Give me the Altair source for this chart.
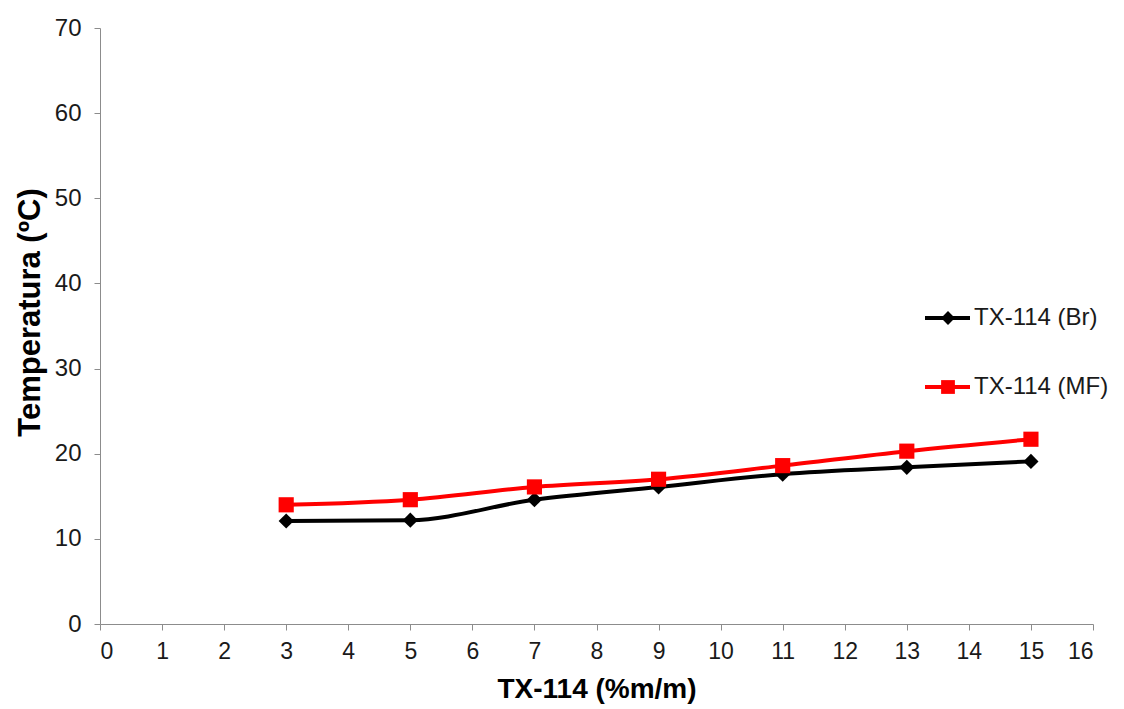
import altair as alt
import pandas as pd

# Surfactant concentration (% m/m) and measured temperatures (ºC)
tx_conc = [3, 5, 7, 9, 11, 13, 15]
temp_br = [12.1, 12.2, 14.6, 16.1, 17.6, 18.4, 19.1]
temp_mf = [14.0, 14.6, 16.1, 17.0, 18.6, 20.3, 21.7]

series_names = ["TX-114 (Br)", "TX-114 (MF)"]
series_colors = ["#000000", "#ff0000"]
series_shapes = ["diamond", "square"]

x_ticks = list(range(0, 17))
y_ticks = list(range(0, 71, 10))

FONT = "Liberation Sans"
LABEL_COLOR = "#1a1a1a"
AXIS_GRAY = "#8c8c8c"

rows = []
for name, values in zip(series_names, [temp_br, temp_mf]):
    for c, t in zip(tx_conc, values):
        rows.append({"conc": c, "temp": t, "serie": name})
df = pd.DataFrame(rows)

color_scale = alt.Scale(domain=series_names, range=series_colors)
shape_scale = alt.Scale(domain=series_names, range=series_shapes)

x_enc = alt.X(
    "conc:Q",
    scale=alt.Scale(domain=[0, 16], nice=False),
    axis=alt.Axis(
        values=x_ticks, format="d", title="TX-114 (%m/m)",
        titleFontSize=28, titleFontWeight="bold", titleFont=FONT, titleColor="#000",
        titlePadding=12,
        labelFontSize=23, labelFont=FONT, labelColor=LABEL_COLOR, labelPadding=10,
        tickSize=6, tickColor=AXIS_GRAY, domainColor=AXIS_GRAY,
        grid=False,
    ),
)
y_enc = alt.Y(
    "temp:Q",
    scale=alt.Scale(domain=[0, 70], nice=False),
    axis=alt.Axis(
        values=y_ticks, format="d", title="Temperatura (ºC)",
        titleFontSize=31, titleFontWeight="bold", titleFont=FONT, titleColor="#000",
        titlePadding=8, titleY=284,
        labelFontSize=24, labelFont=FONT, labelColor=LABEL_COLOR, labelPadding=13,
        tickSize=6, tickColor=AXIS_GRAY, domainColor=AXIS_GRAY,
        grid=False,
    ),
)

base = alt.Chart(df)

lines = base.mark_line(interpolate="monotone", strokeWidth=4).encode(
    x=x_enc, y=y_enc,
    color=alt.Color("serie:N", scale=color_scale, legend=None),
    detail="serie:N",
)

points = base.mark_point(filled=True, opacity=1, size=230).encode(
    x="conc:Q", y="temp:Q",
    color=alt.Color("serie:N", scale=color_scale, legend=None),
    shape=alt.Shape("serie:N", scale=shape_scale, legend=None),
)

# Hand-built legend entries on the right of the plot
legend_layers = []
for name, color, shape, ly in zip(series_names, series_colors, series_shapes, [290, 359]):
    ldf = pd.DataFrame({"serie": [name]})
    lb = alt.Chart(ldf)
    legend_layers.append(
        lb.mark_rule(color=color, strokeWidth=4).encode(
            x=alt.value(825), x2=alt.value(870), y=alt.value(ly)
        )
    )
    legend_layers.append(
        lb.mark_point(filled=True, opacity=1, size=190, shape=shape, color=color).encode(
            x=alt.value(848), y=alt.value(ly)
        )
    )
    legend_layers.append(
        lb.mark_text(align="left", baseline="middle", font=FONT, fontSize=24, color=LABEL_COLOR).encode(
            x=alt.value(874), y=alt.value(ly), text="serie:N"
        )
    )

chart = alt.layer(lines, points, *legend_layers).properties(
    width=993,
    height=596,
    autosize=alt.AutoSizeParams(type="none"),
    padding={"left": 100, "top": 28, "right": 31, "bottom": 85},
    background="white",
).configure_view(stroke=None)

chart.save("out.html", embed_options={"renderer": "svg", "actions": False})
